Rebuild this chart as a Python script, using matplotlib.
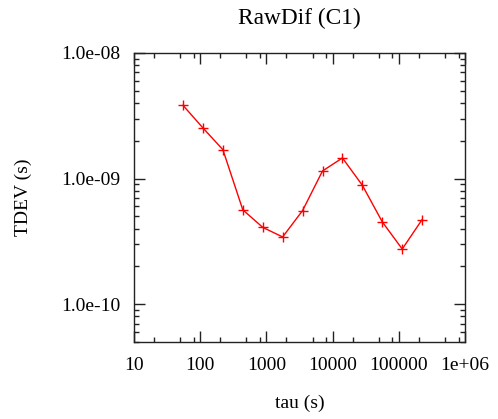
import numpy as np
import matplotlib.pyplot as plt
from matplotlib.ticker import FixedLocator, LogLocator, NullFormatter, FixedFormatter

# tau values (s) and TDEV values (s)
tau = [55, 110, 220, 440, 880, 1760, 3520, 7040, 14080, 28160, 56320, 112640, 225280]
tdev = [3.83e-9, 2.53e-9, 1.70e-9, 5.64e-10, 4.09e-10, 3.43e-10, 5.57e-10,
        1.15e-9, 1.46e-9, 8.84e-10, 4.52e-10, 2.75e-10, 4.72e-10]

xticks = [10, 100, 1000, 10000, 100000, 1e6]
xlabels = ["10", "100", "1000", "10000", "100000", "1e+06"]
yticks = [1e-10, 1e-9, 1e-8]
ylabels = ["1.0e-10", "1.0e-09", "1.0e-08"]

plt.rcParams['font.family'] = ['Liberation Serif', 'DejaVu Serif']
plt.rcParams['font.size'] = 14

fig = plt.figure(figsize=(4.98, 4.19), dpi=100)
ax = fig.add_axes([134/498, 1 - 342/419, 331/498, 289/419])

ax.plot(tau, tdev, color='#ff0000', lw=1.0, marker='+', ms=7, mew=1.0)

ax.set_xscale('log')
ax.set_yscale('log')
ax.set_xlim(10, 1e6)
ax.set_ylim(5e-11, 1e-8)

ax.xaxis.set_major_locator(FixedLocator(xticks))
ax.xaxis.set_major_formatter(FixedFormatter(xlabels))
ax.xaxis.set_minor_locator(LogLocator(base=10, subs=[2, 5, 8]))
ax.xaxis.set_minor_formatter(NullFormatter())
ax.yaxis.set_major_locator(FixedLocator(yticks))
ax.yaxis.set_major_formatter(FixedFormatter(ylabels))
ax.yaxis.set_minor_locator(LogLocator(base=10, subs=np.arange(2, 10)))
ax.yaxis.set_minor_formatter(NullFormatter())

ax.tick_params(which='both', direction='in', top=True, right=True, color='#222222')
ax.tick_params(which='major', length=8, width=1.0)
ax.tick_params(which='minor', length=3.5, width=1.0)
ax.tick_params(axis='x', which='major', pad=11)
ax.tick_params(axis='y', which='major', pad=10)
for s in ax.spines.values():
    s.set_color('#222222')
    s.set_linewidth(1.0)

ax.set_title("RawDif (C1)", pad=21)
ax.set_xlabel("tau (s)", labelpad=15)
ax.set_ylabel("TDEV (s)", labelpad=21)

fig.savefig("out.png", dpi=100)
